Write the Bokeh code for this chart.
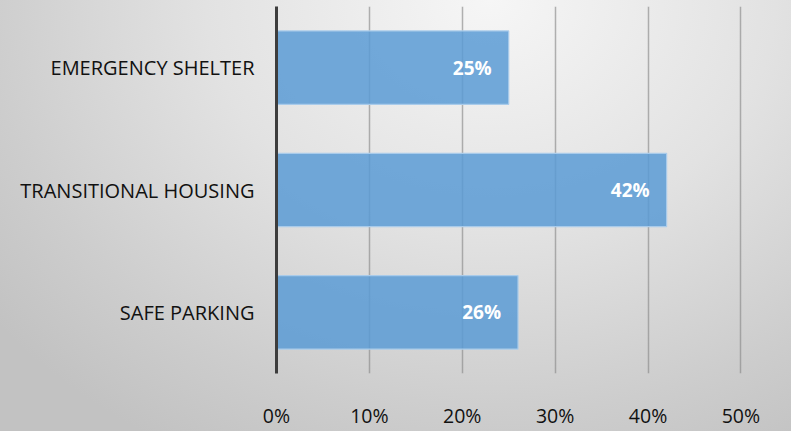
from bokeh.plotting import figure
from bokeh.models import Range1d, FactorRange, FixedTicker, PrintfTickFormatter, ColumnDataSource
from bokeh.core.properties import value
from bokeh.embed import file_html
from bokeh.resources import INLINE

categories = ["SAFE PARKING", "TRANSITIONAL HOUSING", "EMERGENCY SHELTER"]
values = [26, 42, 25]
x_ticks = [0, 10, 20, 30, 40, 50]

labels = [f"{v}%" for v in values]
src = ColumnDataSource(data=dict(cat=categories, val=values, lab=labels))

p = figure(width=791, height=431, output_backend="svg", toolbar_location=None,
           y_range=FactorRange(*categories, range_padding=0), x_range=Range1d(0, 52),
           min_border_left=276, min_border_right=32, min_border_top=6, min_border_bottom=47,
           tools="")
p.styles = {"background": "radial-gradient(ellipse 80% 120% at 62% 0%, #f6f6f6 0%, #e2e2e2 45%, #cdcdcd 80%, #c2c2c2 100%)"}
p.border_fill_color = None
p.background_fill_color = None
p.outline_line_color = None

p.hbar(y="cat", right="val", left=0, height=0.6, source=src,
       fill_color="#5b9bd5", fill_alpha=0.85, line_color="#a9cbea", line_width=1.2)
p.text(x="val", y="cat", text="lab", source=src, x_offset=-17,
       text_align="right", text_baseline="middle", text_color="white",
       text_font=value("Open Sans"), text_font_style="bold", text_font_size="19px")

# x axis
xa = p.xaxis[0]
xa.ticker = FixedTicker(ticks=x_ticks)
xa.formatter = PrintfTickFormatter(format="%d%%")
xa.axis_line_color = None
xa.major_tick_line_color = None
xa.minor_tick_line_color = None
xa.major_tick_out = 0
xa.major_label_standoff = 28
xa.major_label_text_font = "Open Sans"
xa.major_label_text_font_size = "19.5px"
xa.major_label_text_color = "#111111"

# y axis
ya = p.yaxis[0]
ya.axis_line_color = "#3d3d3d"
ya.axis_line_width = 3
ya.major_tick_line_color = None
ya.minor_tick_line_color = None
ya.major_tick_out = 0
ya.major_label_standoff = 22
ya.major_label_text_font = "Open Sans"
ya.major_label_text_font_size = "20px"
ya.major_label_text_color = "#111111"

p.ygrid.grid_line_color = None
p.xgrid.ticker = FixedTicker(ticks=x_ticks)
p.xgrid.grid_line_color = "#8a8a8a"
p.xgrid.grid_line_alpha = 0.65
p.xgrid.grid_line_width = 1.5

open("out.html", "w").write(file_html(p, INLINE))
